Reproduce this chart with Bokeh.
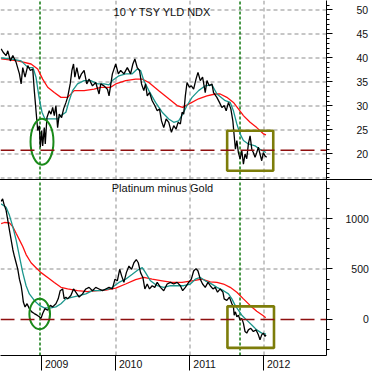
from bokeh.plotting import figure
from bokeh.models import Range1d, FixedTicker, Span, Label, Div
from bokeh.layouts import column
from bokeh.embed import file_html
from bokeh.resources import INLINE

# ---------------- data ----------------
yld_t = [2008.448, 2008.475, 2008.515, 2008.538, 2008.573, 2008.606, 2008.650, 2008.695, 2008.718, 2008.740,
         2008.771, 2008.808, 2008.843, 2008.875, 2008.896, 2008.919, 2008.942, 2008.964, 2008.977, 2008.996,
         2009.009, 2009.031, 2009.044, 2009.067, 2009.098, 2009.121, 2009.144, 2009.166, 2009.188, 2009.211,
         2009.233, 2009.265, 2009.292, 2009.323, 2009.346, 2009.381, 2009.404, 2009.426, 2009.444, 2009.471,
         2009.502, 2009.534, 2009.569, 2009.605, 2009.636, 2009.682, 2009.726, 2009.771, 2009.794, 2009.838,
         2009.884, 2009.906, 2009.951, 2009.996, 2010.032, 2010.063, 2010.107, 2010.153, 2010.197, 2010.228,
         2010.255, 2010.287, 2010.318, 2010.345, 2010.376, 2010.399, 2010.422, 2010.453, 2010.489, 2010.524,
         2010.557, 2010.588, 2010.615, 2010.645, 2010.678, 2010.713, 2010.749, 2010.780, 2010.812, 2010.839,
         2010.870, 2010.893, 2010.915, 2010.937, 2010.960, 2010.991, 2011.018, 2011.049, 2011.081, 2011.108,
         2011.139, 2011.170, 2011.206, 2011.229, 2011.260, 2011.297, 2011.318, 2011.363, 2011.398, 2011.431,
         2011.462, 2011.489, 2011.520, 2011.552, 2011.579, 2011.597, 2011.614, 2011.633, 2011.654, 2011.677,
         2011.700, 2011.722, 2011.744, 2011.767, 2011.789, 2011.812, 2011.835, 2011.856, 2011.879, 2011.902,
         2011.924, 2011.946, 2011.969, 2011.991, 2012.014, 2012.036]
yld_v = [41.9, 41.2, 40.5, 41.5, 39.4, 40.5, 39.1, 36.7, 34.6, 38.0,
         36.0, 38.4, 37.4, 37.7, 33.2, 29.0, 24.9, 25.9, 21.4, 24.9,
         21.7, 25.5, 22.1, 27.6, 29.0, 28.3, 29.7, 28.0, 30.1, 25.5,
         28.3, 27.6, 29.4, 30.7, 31.8, 34.6, 37.4, 38.75, 36.0, 38.0,
         35.6, 36.7, 37.4, 34.6, 35.6, 34.2, 34.9, 32.5, 34.6, 34.2,
         33.5, 32.1, 36.7, 38.75, 36.7, 37.4, 36.7, 38.0, 36.7, 38.75,
         39.8, 38.0, 37.4, 34.6, 33.2, 34.6, 32.1, 32.8, 31.1, 30.1,
         29.0, 29.4, 26.9, 25.5, 27.3, 26.6, 24.5, 25.9, 25.2, 26.6,
         26.25, 28.7, 28.3, 32.1, 34.9, 33.9, 34.2, 33.5, 35.6, 37.0,
         35.3, 36.0, 32.8, 35.3, 34.2, 34.6, 32.8, 31.8, 30.75, 29.7,
         30.1, 29.0, 30.75, 29.4, 26.9, 23.8, 21.0, 22.8, 20.3, 19.0,
         20.7, 17.9, 20.0, 19.0, 22.1, 23.8, 21.0, 20.3, 19.3, 20.3,
         21.4, 20.0, 18.6, 20.3, 19.6, 19.3]

yld_fast_t = [2008.448, 2008.583, 2008.717, 2008.812, 2008.879, 2008.919, 2008.960, 2009.000, 2009.040, 2009.121,
              2009.211, 2009.256, 2009.323, 2009.367, 2009.413, 2009.480, 2009.569, 2009.659, 2009.749, 2009.838,
              2009.906, 2009.951, 2010.040, 2010.130, 2010.220, 2010.287, 2010.332, 2010.376, 2010.444, 2010.534,
              2010.624, 2010.713, 2010.780, 2010.847, 2010.901, 2010.960, 2011.028, 2011.116, 2011.206, 2011.297,
              2011.364, 2011.476, 2011.543, 2011.587, 2011.633, 2011.677, 2011.722, 2011.789, 2011.879, 2011.946,
              2012.027]
yld_fast_v = [40.0, 39.8, 39.4, 38.0, 38.0, 36.0, 31.8, 28.7, 27.3, 27.3,
              27.3, 28.0, 28.7, 31.1, 33.2, 34.6, 35.3, 35.3, 34.6, 34.6,
              34.4, 35.3, 36.3, 36.7, 36.7, 37.7, 37.4, 35.3, 33.2, 30.75,
              28.7, 27.3, 26.6, 26.9, 28.3, 30.1, 31.8, 33.2, 34.2, 34.4,
              32.5, 31.1, 30.75, 29.0, 26.25, 24.2, 22.8, 22.1, 21.7, 21.0,
              20.3]

yld_slow_t = [2008.448, 2008.673, 2008.852, 2008.942, 2009.009, 2009.077, 2009.166, 2009.256, 2009.346, 2009.435,
              2009.569, 2009.704, 2009.794, 2009.928, 2009.996, 2010.130, 2010.265, 2010.355, 2010.444, 2010.578,
              2010.713, 2010.826, 2010.901, 2010.982, 2011.116, 2011.229, 2011.341, 2011.408, 2011.498, 2011.587,
              2011.654, 2011.722, 2011.812, 2011.902, 2011.991, 2012.027]
yld_slow_v = [39.8, 39.4, 38.75, 37.7, 35.6, 33.9, 32.8, 31.8, 31.8, 33.2,
              33.2, 33.5, 33.9, 33.9, 34.6, 35.3, 35.6, 35.6, 34.9, 33.2,
              31.5, 30.1, 29.7, 30.4, 31.5, 32.1, 32.5, 32.5, 31.8, 30.75,
              29.4, 28.0, 26.6, 25.5, 24.2, 24.0]

ptg_t = [2008.448, 2008.468, 2008.485, 2008.515, 2008.538, 2008.560, 2008.583, 2008.606, 2008.627, 2008.650,
         2008.673, 2008.695, 2008.718, 2008.731, 2008.748, 2008.771, 2008.798, 2008.829, 2008.861, 2008.896,
         2008.933, 2008.964, 2008.987, 2009.009, 2009.040, 2009.077, 2009.112, 2009.144, 2009.188, 2009.219,
         2009.246, 2009.279, 2009.300, 2009.323, 2009.346, 2009.390, 2009.426, 2009.457, 2009.502, 2009.548,
         2009.592, 2009.636, 2009.682, 2009.726, 2009.771, 2009.817, 2009.861, 2009.906, 2009.951, 2009.986,
         2010.018, 2010.050, 2010.076, 2010.107, 2010.140, 2010.175, 2010.211, 2010.242, 2010.274, 2010.301,
         2010.332, 2010.363, 2010.390, 2010.422, 2010.453, 2010.489, 2010.524, 2010.557, 2010.601, 2010.645,
         2010.691, 2010.736, 2010.780, 2010.826, 2010.870, 2010.901, 2010.937, 2010.982, 2011.018, 2011.049,
         2011.081, 2011.108, 2011.139, 2011.170, 2011.206, 2011.243, 2011.274, 2011.310, 2011.341, 2011.372,
         2011.408, 2011.445, 2011.462, 2011.498, 2011.533, 2011.566, 2011.587, 2011.597, 2011.614, 2011.633,
         2011.654, 2011.677, 2011.700, 2011.722, 2011.744, 2011.767, 2011.789, 2011.821, 2011.856, 2011.893,
         2011.924, 2011.946, 2011.969, 2011.991, 2012.014, 2012.027]
ptg_v = [1170, 1195, 1146, 1081, 983, 886, 789, 691, 626, 562,
         497, 399, 334, 270, 172, 124, 156, 107, 75, 58,
         42, 26, 10, 58, 107, 91, 139, 124, 156, 204,
         285, 302, 204, 221, 204, 237, 302, 270, 221, 253,
         302, 318, 285, 318, 302, 285, 302, 318, 302, 399,
         383, 497, 432, 367, 464, 529, 497, 562, 594, 562,
         464, 416, 302, 351, 302, 334, 318, 367, 318, 285,
         351, 367, 351, 367, 334, 285, 318, 367, 399, 480,
         504, 480, 399, 351, 318, 367, 334, 302, 318, 270,
         302, 270, 204, 188, 221, 156, 124, 42, 75, 26,
         42, -7, 10, -39, -120, -136, -104, -88, -120, -104,
         -153, -202, -153, -136, -169, -153]

ptg_fast_t = [2008.448, 2008.515, 2008.560, 2008.606, 2008.650, 2008.695, 2008.740, 2008.785, 2008.829, 2008.896,
              2008.964, 2009.031, 2009.121, 2009.188, 2009.256, 2009.323, 2009.413, 2009.502, 2009.592, 2009.682,
              2009.794, 2009.906, 2009.951, 2010.040, 2010.130, 2010.220, 2010.309, 2010.355, 2010.399, 2010.466,
              2010.557, 2010.645, 2010.736, 2010.826, 2010.915, 2011.005, 2011.072, 2011.139, 2011.206, 2011.274,
              2011.364, 2011.453, 2011.520, 2011.566, 2011.610, 2011.654, 2011.700, 2011.767, 2011.835, 2011.902,
              2011.969, 2012.027]
ptg_fast_v = [1146, 1113, 1032, 918, 789, 626, 464, 334, 253, 188,
              139, 114, 114, 124, 156, 204, 221, 237, 253, 285,
              285, 302, 318, 367, 399, 448, 497, 513, 464, 383,
              334, 318, 334, 334, 334, 351, 399, 416, 383, 360,
              318, 285, 253, 204, 139, 91, 42, -7, -55, -104,
              -136, -146]

ptg_slow_t = [2008.448, 2008.493, 2008.560, 2008.606, 2008.650, 2008.695, 2008.740, 2008.785, 2008.852, 2008.919,
              2008.987, 2009.077, 2009.166, 2009.256, 2009.346, 2009.480, 2009.615, 2009.749, 2009.861, 2009.996,
              2010.130, 2010.265, 2010.376, 2010.489, 2010.624, 2010.758, 2010.893, 2011.028, 2011.162, 2011.274,
              2011.364, 2011.453, 2011.543, 2011.633, 2011.722, 2011.812, 2011.902, 2011.991, 2012.023]
ptg_slow_v = [951, 961, 957, 918, 854, 789, 723, 643, 562, 513,
              464, 416, 367, 318, 302, 285, 276, 285, 290, 310,
              351, 395, 416, 399, 383, 367, 367, 383, 399, 373,
              367, 351, 318, 270, 204, 139, 81, 36, 17]

year_ticks = [2009, 2010, 2011, 2012]
year_labels = ["2009", "2010", "2011", "2012"]
year_grid = [2010, 2011, 2012]
yld_major = [20, 25, 30, 35, 40, 45, 50]
yld_grid = [15, 20, 25, 30, 35, 40, 45, 50]
yld_minor = list(range(15, 52))
ptg_major = [0, 500, 1000]
ptg_grid = [500, 1000]
ptg_minor = list(range(-300, 1400, 100))
yld_ref_level = 20.8
ptg_ref_level = 0
marker_dates = [2008.973, 2011.676]
yld_circle = dict(x=2009.0, y=22.56, w=0.31, h=9.6)
ptg_circle = dict(x=2008.969, y=54, w=0.279, h=302)
yld_box = dict(left=2011.502, right=2012.125, top=24.85, bottom=16.52)
ptg_box = dict(left=2011.506, right=2012.135, top=129.5, bottom=-282.4)

title_top = "10 Y TSY YLD NDX"
title_bottom = "Platinum minus Gold"

# ---------------- styling ----------------
X0, X1 = 2008.43919, 2012.8446
TOP_Y = (14.687, 51.979)
BOT_Y = (-357.8, 1377.5)
FONT = "Liberation Sans"
TXT = "#111111"
TEAL = "#1b968c"
RED = "#ff1010"
DRED = "#8e0f0f"
GREEN = "#1a8a1a"
VGREEN = "#117a11"
OLIVE = "#7d7d0a"
GRID = "#b4b4b4"
TITLE_X = 2010.628
FIG = "\u2007"   # figure space: digit-wide padding for right-aligned values
NB = "\u00a0"


def base_fig(h, yr, bottom_border, xaxis, hgrid):
    p = figure(width=372, height=h, x_range=Range1d(X0, X1), y_range=Range1d(*yr),
               output_backend="svg", toolbar_location=None,
               x_axis_location=("below" if xaxis else None), y_axis_location="right",
               min_border_left=0, min_border_top=0, min_border_bottom=bottom_border,
               min_border_right=46)
    p.outline_line_color = None
    p.background_fill_color = "white"
    p.border_fill_color = "white"
    p.xgrid.visible = False
    p.ygrid.visible = False
    ax = p.yaxis[0]
    ax.axis_line_color = "black"
    ax.major_tick_line_color = "black"
    ax.minor_tick_line_color = "black"
    ax.major_tick_in = 0
    ax.major_tick_out = 6
    ax.minor_tick_in = 0
    ax.minor_tick_out = 3
    ax.major_label_text_font = FONT
    ax.major_label_text_font_size = "10.5px"
    ax.major_label_text_color = TXT
    # dashed grid drawn as glyph segments spanning the panel
    p.segment(x0=year_grid, x1=year_grid, y0=[yr[0]] * len(year_grid), y1=[yr[1]] * len(year_grid),
              line_color=GRID, line_dash="4 3", line_width=1.5)
    p.segment(x0=[X0] * len(hgrid), x1=[X1] * len(hgrid), y0=hgrid, y1=hgrid,
              line_color=GRID, line_dash="4 3", line_width=1.5)
    p.segment(x0=marker_dates, x1=marker_dates, y0=[yr[0]] * len(marker_dates),
              y1=[yr[1]] * len(marker_dates), line_color=VGREEN, line_dash="3 2", line_width=1.5)
    return p


def right_aligned(ticks, width):
    return {t: FIG * (width - len(str(t))) + str(t) for t in ticks}


# ---- top panel ----
top = base_fig(179, TOP_Y, 0, False, yld_grid)
top.yaxis[0].ticker = FixedTicker(ticks=yld_major, minor_ticks=yld_minor)
top.yaxis[0].major_label_standoff = 24
top.yaxis[0].major_label_overrides = right_aligned(yld_major, 2)
top.add_layout(Span(location=yld_ref_level, dimension="width", line_color=DRED,
                    line_dash="14 6", line_width=1.5, level="glyph"))
top.line(yld_slow_t, yld_slow_v, line_color=RED, line_width=1.3)
top.line(yld_fast_t, yld_fast_v, line_color=TEAL, line_width=1.3)
top.line(yld_t, yld_v, line_color="black", line_width=1.3)
top.ellipse(x=[yld_circle["x"]], y=[yld_circle["y"]], width=[yld_circle["w"]],
            height=[yld_circle["h"]], fill_color=None, line_color=GREEN, line_width=2)
top.quad(left=[yld_box["left"]], right=[yld_box["right"]], top=[yld_box["top"]],
         bottom=[yld_box["bottom"]], fill_color=None, line_color=OLIVE, line_width=2.6)
top.add_layout(Label(x=TITLE_X, y=49.5, text=title_top, text_align="center",
                     text_baseline="middle", text_font=FONT, text_font_size="11px",
                     text_color=TXT))

sep = Div(text="", width=372, height=1, margin=0, styles={"background-color": "black"})

# ---- bottom panel ----
bot = base_fig(192, BOT_Y, 15, True, ptg_grid)
bot.yaxis[0].ticker = FixedTicker(ticks=ptg_major, minor_ticks=ptg_minor)
bot.yaxis[0].major_label_standoff = 13
bot.yaxis[0].major_label_overrides = right_aligned(ptg_major, 4)
xa = bot.xaxis[0]
xa.ticker = FixedTicker(ticks=year_ticks)
xa.axis_line_color = "black"
xa.major_tick_line_color = "black"
xa.major_tick_in = 0
xa.major_tick_out = 15
xa.minor_tick_line_color = None
xa.major_label_text_font = FONT
xa.major_label_text_font_size = "10.5px"
xa.major_label_text_color = TXT
xa.major_label_standoff = -13
xa.major_label_overrides = {t: FIG * 4 + NB * 2 + lab for t, lab in zip(year_ticks, year_labels)}
bot.add_layout(Span(location=ptg_ref_level, dimension="width", line_color=DRED,
                    line_dash="14 6", line_width=1.5, level="glyph"))
bot.line(ptg_slow_t, ptg_slow_v, line_color=RED, line_width=1.3)
bot.line(ptg_fast_t, ptg_fast_v, line_color=TEAL, line_width=1.3)
bot.line(ptg_t, ptg_v, line_color="black", line_width=1.3)
bot.ellipse(x=[ptg_circle["x"]], y=[ptg_circle["y"]], width=[ptg_circle["w"]],
            height=[ptg_circle["h"]], fill_color=None, line_color=GREEN, line_width=2)
bot.quad(left=[ptg_box["left"]], right=[ptg_box["right"]], top=[ptg_box["top"]],
         bottom=[ptg_box["bottom"]], fill_color=None, line_color=OLIVE, line_width=2.6)
bot.add_layout(Label(x=TITLE_X, y=1300, text=title_bottom, text_align="center",
                     text_baseline="middle", text_font=FONT, text_font_size="11px",
                     text_color=TXT))

layout = column(top, sep, bot, spacing=0)
open("out.html", "w").write(file_html(layout, INLINE))
